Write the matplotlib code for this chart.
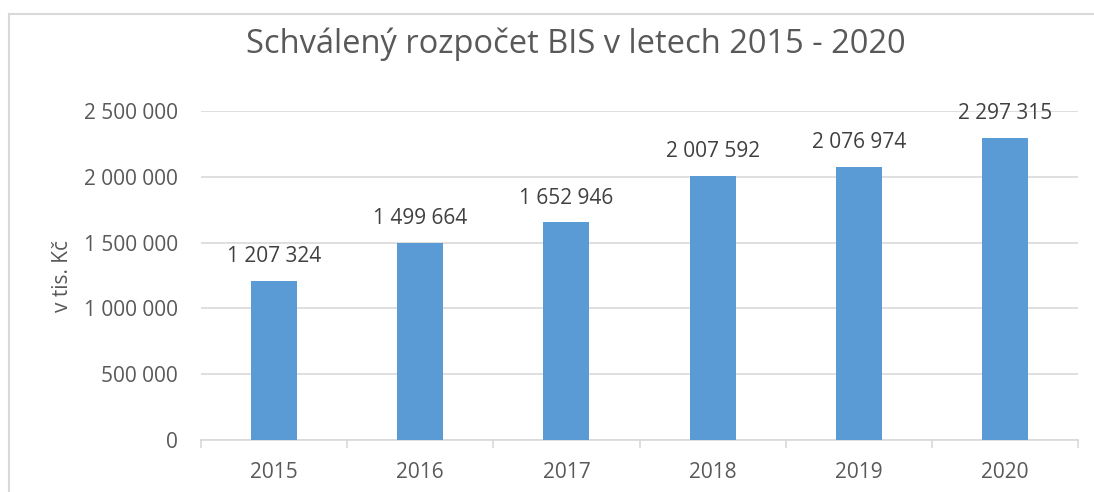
import matplotlib
matplotlib.use("Agg")
import matplotlib.pyplot as plt
from matplotlib.lines import Line2D

years = ["2015", "2016", "2017", "2018", "2019", "2020"]
values = [1207324, 1499664, 1652946, 2007592, 2076974, 2297315]
yticks = [0, 500000, 1000000, 1500000, 2000000, 2500000]

def fmt(v):
    return f"{v:,}".replace(",", " ")

plt.rcParams['font.family'] = ['Open Sans', 'DejaVu Sans']
txt = '#595959'
fs = 15

W, H = 1094, 492
fig = plt.figure(figsize=(W/100, H/100), dpi=100)
bx, by = 9/W, 1 - 13.5/H
fig.add_artist(Line2D([bx, 1.0], [by, by], transform=fig.transFigure,
                      color='#d9d9d9', linewidth=1.5))
fig.add_artist(Line2D([bx, bx], [0, by], transform=fig.transFigure,
                      color='#d9d9d9', linewidth=1.5))

ax = fig.add_axes([201/W, 1-440/H, (1078-201)/W, (440-111)/H])
x = list(range(len(years)))
ax.bar(x, values, width=0.315, color='#5B9BD5', zorder=3)
ax.set_xlim(-0.5, len(years)-0.5)
ax.set_ylim(0, 2500000)
ax.set_yticks(yticks)
ax.set_yticklabels([fmt(v) for v in yticks], fontsize=fs, color=txt)
ax.set_xticks(x)
ax.set_xticklabels(years, fontsize=fs, color=txt)
ax.tick_params(axis='y', length=0, pad=16.5)
ax.tick_params(axis='x', length=0, pad=16)
ax.set_xticks([i-0.5 for i in range(len(years)+1)], minor=True)
ax.tick_params(axis='x', which='minor', length=6, color='#d9d9d9', width=1.2)
ax.grid(axis='y', color='#d9d9d9', linewidth=1.2, zorder=0)
for s in ['top', 'right', 'left']:
    ax.spines[s].set_visible(False)
ax.spines['bottom'].set_color('#d9d9d9')
ax.spines['bottom'].set_linewidth(1.2)

for xi, v in zip(x, values):
    ax.annotate(fmt(v), (xi, v), xytext=(0, 10), textcoords='offset points',
                ha='center', va='bottom', fontsize=fs, color='#404040')

ax.set_ylabel("v tis. Kč", fontsize=fs, color=txt, labelpad=8)
fig.text(0.5265, 1-44/H, "Schválený rozpočet BIS v letech 2015 - 2020",
         ha='center', va='center', fontsize=23.5, color=txt)

fig.savefig("out.png", dpi=100)
